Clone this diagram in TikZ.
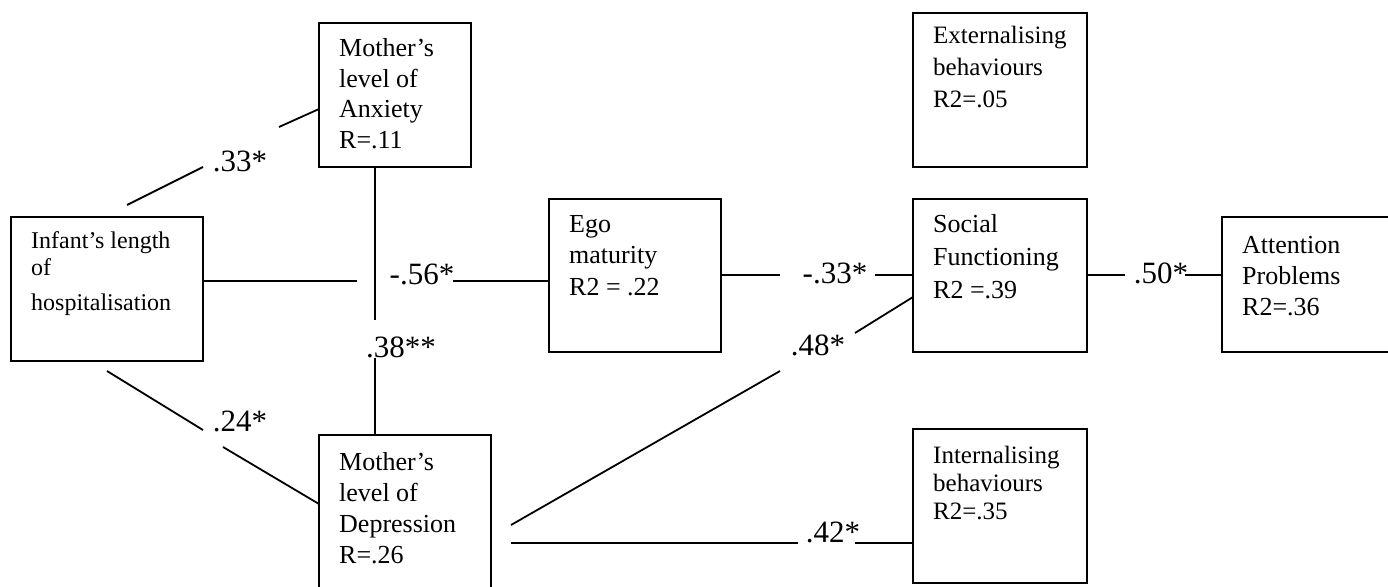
\documentclass[tikz,border=0pt]{standalone}
\usepackage{fontspec}
\setmainfont{Liberation Serif}
\usepackage{tikz}
\tikzset{
  box/.style={rectangle, draw, line width=1.8pt, anchor=north west, inner sep=0pt, outer sep=0pt},
  boxtext/.style={anchor=base west, align=left, inner sep=0pt, font=\fontsize{26}{31}\selectfont},
  coef/.style={inner sep=0pt, font=\fontsize{31}{36}\selectfont},
  link/.style={line width=1.8pt}
}

\begin{document}
\begin{tikzpicture}[x=1pt, y=-1pt]
        \useasboundingbox (0,0) rectangle (1388,586);

        % Boxes
        \node[box, minimum width=192pt, minimum height=144pt] (inf) at (11,217) {};
        \node[box, minimum width=152pt, minimum height=144pt] (anx) at (319,23) {};
        \node[box, minimum width=172pt, minimum height=170pt] (dep) at (319,435) {};
        \node[box, minimum width=172pt, minimum height=153pt] (ego) at (549,199) {};
        \node[box, minimum width=174pt, minimum height=154pt] (ext) at (913,13) {};
        \node[box, minimum width=174pt, minimum height=153pt] (soc) at (913,199) {};
        \node[box, minimum width=190pt, minimum height=135pt] (att) at (1222,217) {};
        \node[box, minimum width=174pt, minimum height=154pt] (int) at (913,429) {};

        % Box texts (placed on the baseline of their last line)
        \node[boxtext, font=\fontsize{24}{27}\selectfont] (inf-t) at (31,310) {Infant's length\\ of\\[8pt] hospitalisation};
        \node[boxtext, font=\fontsize{26}{30.5}\selectfont] (anx-t) at (339,148) {Mother's\\ level of\\ Anxiety\\ R=.11};
        \node[boxtext] (dep-t) at (339,563) {Mother's\\ level of\\ Depression\\ R=.26};
        \node[boxtext, font=\fontsize{26}{31.5}\selectfont] (ego-t) at (569,295) {Ego\\ maturity\\ R2 = .22};
        \node[boxtext, font=\fontsize{25}{32}\selectfont] (ext-t) at (933,107) {Externalising\\ behaviours\\ R2=.05};
        \node[boxtext, font=\fontsize{26}{33}\selectfont] (soc-t) at (933,298) {Social\\ Functioning\\ R2 =.39};
        \node[boxtext] (att-t) at (1242,315) {Attention\\ Problems\\ R2=.36};
        \node[boxtext, font=\fontsize{25}{28}\selectfont] (int-t) at (933,519) {Internalising\\ behaviours\\ R2=.35};

        % Coefficients
        \node[coef] (c-inf-anx) at (240,161) {.33*};
        \node[coef] (c-inf-ego) at (422,274) {-.56*};
        \node[coef] (c-anx-dep) at (401,347) {.38**};
        \node[coef] (c-inf-dep) at (240,421) {.24*};
        \node[coef] (c-ego-soc) at (835,273) {-.33*};
        \node[coef] (c-dep-soc) at (818,345) {.48*};
        \node[coef] (c-dep-int) at (833,532) {.42*};
        \node[coef] (c-soc-att) at (1161,273) {.50*};

        % Free line ends
        \coordinate (p1) at (127,205);
        \coordinate (p2) at (203,167);
        \coordinate (p3) at (279,127);
        \coordinate (p4) at (319,109);
        \coordinate (h1) at (357,281);
        \coordinate (h2) at (453,281);
        \coordinate (v1) at (375,320);
        \coordinate (v2) at (375,358);
        \coordinate (q1) at (107,371);
        \coordinate (q2) at (203,430);
        \coordinate (q3) at (223,447);
        \coordinate (q4) at (319,504);
        \coordinate (r1) at (780,275);
        \coordinate (r2) at (875,275);
        \coordinate (s1) at (511,525);
        \coordinate (s2) at (780,371);
        \coordinate (s3) at (855,333);
        \coordinate (s4) at (913,297);
        \coordinate (t1) at (511,543);
        \coordinate (t2) at (798,543);
        \coordinate (t3) at (855,543);
        \coordinate (u1) at (1125,275);
        \coordinate (u2) at (1185,275);

        % Paths
        \draw[link] (p1) -- (p2);
        \draw[link] (p3) -- (p4);
        \draw[link] (inf.east |- h1) -- (h1);
        \draw[link] (h2) -- (ego.west |- h2);
        \draw[link] (anx.south -| v1) -- (v1);
        \draw[link] (v2) -- (dep.north -| v2);
        \draw[link] (q1) -- (q2);
        \draw[link] (q3) -- (q4);
        \draw[link] (ego.east |- r1) -- (r1);
        \draw[link] (r2) -- (soc.west |- r2);
        \draw[link] (s1) -- (s2);
        \draw[link] (s3) -- (s4);
        \draw[link] (t1) -- (t2);
        \draw[link] (t3) -- (int.west |- t3);
        \draw[link] (soc.east |- u1) -- (u1);
        \draw[link] (u2) -- (att.west |- u2);

    \end{tikzpicture}
\end{document}
